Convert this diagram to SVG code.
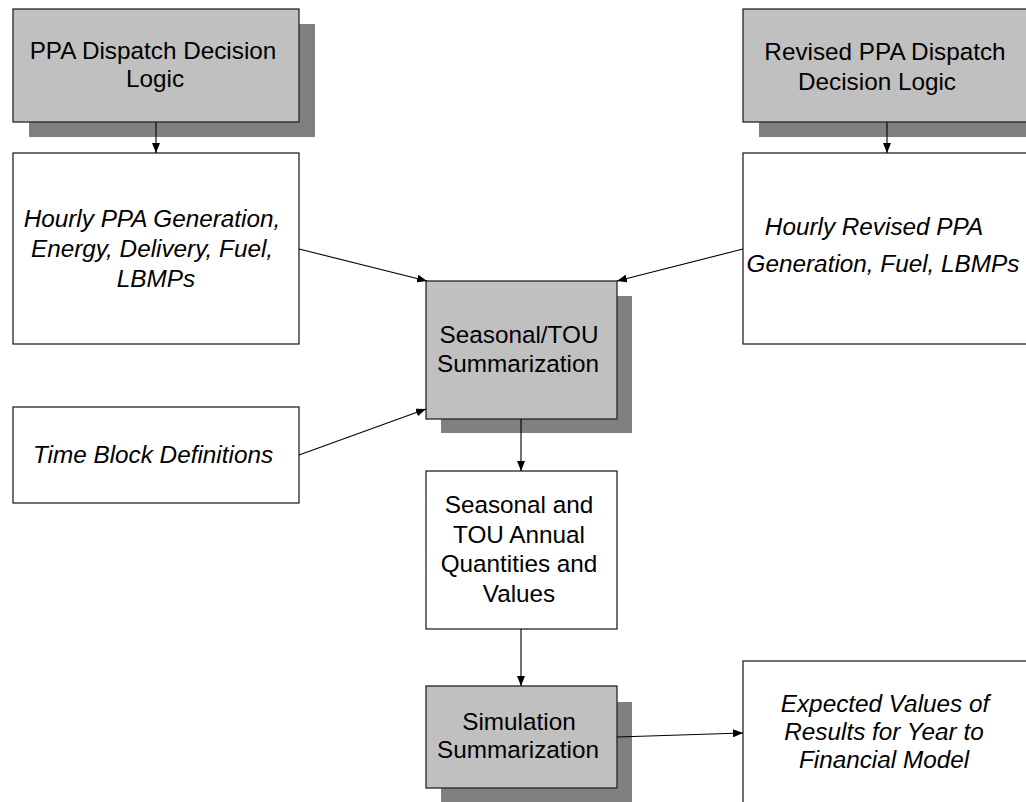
<svg xmlns="http://www.w3.org/2000/svg" width="1026" height="802" viewBox="0 0 1026 802">
<defs>
<style>
.shadow{fill:#808080;stroke:none}
.grey{fill:#c0c0c0;stroke:#262626;stroke-width:1.3}
.white{fill:#ffffff;stroke:#262626;stroke-width:1.3}
.t{font-family:"Liberation Sans",Arial,sans-serif;font-size:24.3px;fill:#000;text-anchor:middle}
.i{font-style:italic}
.c{fill:none;stroke:#000;stroke-width:1.1}
</style>
<marker id="ah" viewBox="0 0 10 8" refX="10" refY="4" markerWidth="10" markerHeight="8" markerUnits="userSpaceOnUse" orient="auto">
<path d="M0,0 L10,4 L0,8 z" fill="#000"/>
</marker>
</defs>
<rect width="1026" height="802" fill="#ffffff"/>

<g id="ppa-dispatch">
<rect class="shadow" x="29" y="24" width="286" height="113"/>
<rect class="grey" x="13" y="9" width="286" height="113"/>
<text class="t" x="153" y="59">PPA Dispatch Decision</text>
<text class="t" x="155" y="87">Logic</text>
</g>

<g id="revised-ppa-dispatch">
<rect class="shadow" x="759" y="24" width="286" height="113"/>
<rect class="grey" x="743" y="9" width="286" height="113"/>
<text class="t" x="885" y="60">Revised PPA Dispatch</text>
<text class="t" x="877" y="90">Decision Logic</text>
</g>

<g id="hourly-ppa">
<rect class="white" x="13" y="153" width="286" height="191"/>
<text class="t i" x="152" y="227">Hourly PPA Generation,</text>
<text class="t i" x="152" y="257">Energy, Delivery, Fuel,</text>
<text class="t i" x="156" y="287">LBMPs</text>
</g>

<g id="hourly-revised-ppa">
<rect class="white" x="743" y="153" width="286" height="191"/>
<text class="t i" x="874" y="235">Hourly Revised PPA</text>
<text class="t i" x="883" y="272">Generation, Fuel, LBMPs</text>
</g>

<g id="seasonal-tou-summarization">
<rect class="shadow" x="441" y="296" width="191" height="137"/>
<rect class="grey" x="426" y="281" width="191" height="138"/>
<text class="t" x="519" y="343">Seasonal/TOU</text>
<text class="t" x="518" y="372">Summarization</text>
</g>

<g id="time-block-definitions">
<rect class="white" x="13" y="407" width="286" height="96"/>
<text class="t i" x="153" y="463">Time Block Definitions</text>
</g>

<g id="seasonal-tou-annual">
<rect class="white" x="426" y="471" width="191" height="158"/>
<text class="t" x="519" y="513">Seasonal and</text>
<text class="t" x="519" y="543">TOU Annual</text>
<text class="t" x="519" y="572">Quantities and</text>
<text class="t" x="519" y="602">Values</text>
</g>

<g id="simulation-summarization">
<rect class="shadow" x="441" y="702" width="191" height="100"/>
<rect class="grey" x="426" y="686" width="191" height="102"/>
<text class="t" x="519" y="730">Simulation</text>
<text class="t" x="518" y="758">Summarization</text>
</g>

<g id="expected-values">
<rect class="white" x="743" y="661" width="286" height="160"/>
<text class="t i" x="885" y="712">Expected Values of</text>
<text class="t i" x="884" y="740">Results for Year to</text>
<text class="t i" x="884" y="768">Financial Model</text>
</g>

<g id="connectors">
<line class="c" x1="156" y1="122" x2="156" y2="153" marker-end="url(#ah)"/>
<line class="c" x1="887" y1="122" x2="887" y2="153" marker-end="url(#ah)"/>
<line class="c" x1="299" y1="249" x2="427" y2="281" marker-end="url(#ah)"/>
<line class="c" x1="743" y1="249" x2="617" y2="281" marker-end="url(#ah)"/>
<line class="c" x1="299" y1="455" x2="426" y2="409" marker-end="url(#ah)"/>
<line class="c" x1="521" y1="419" x2="521" y2="471" marker-end="url(#ah)"/>
<line class="c" x1="521" y1="629" x2="521" y2="686" marker-end="url(#ah)"/>
<line class="c" x1="617" y1="737" x2="743" y2="733" marker-end="url(#ah)"/>
</g>
</svg>
